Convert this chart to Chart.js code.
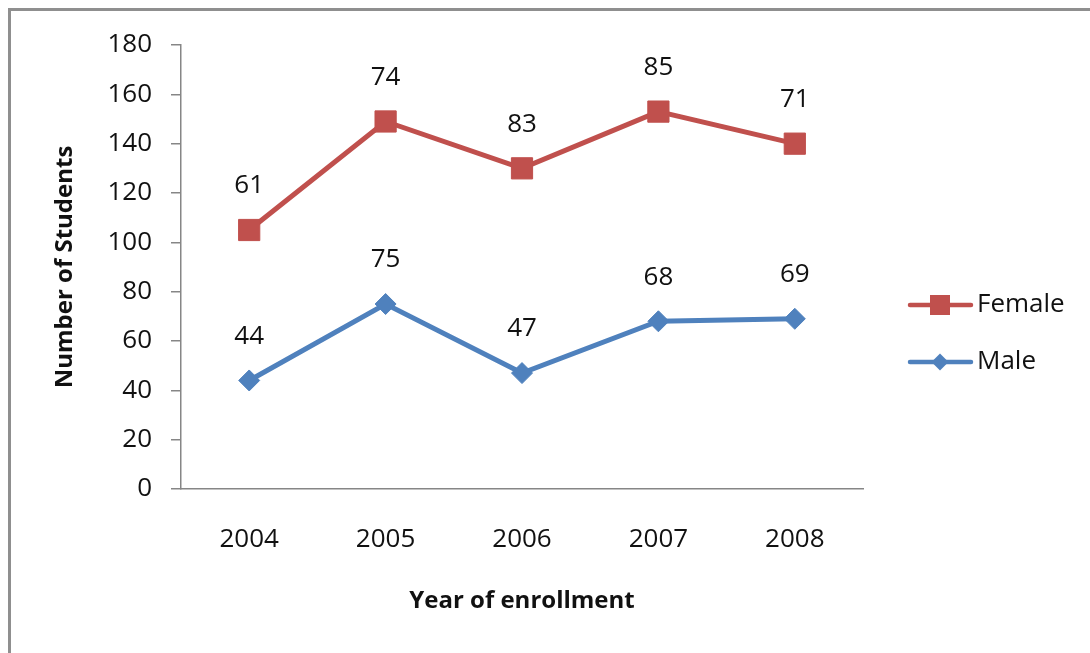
<!DOCTYPE html>
<html>
<head>
<meta charset="utf-8">
<script src="https://cdn.jsdelivr.net/npm/chart.js@4.4.1/dist/chart.umd.min.js"></script>
<style>
  html, body { margin: 0; padding: 0; background: #fff; overflow: hidden; }
  #frame { position: absolute; left: 8px; top: 8px; width: 1200px; height: 800px;
           border: 3px solid #8f8f8f; box-sizing: border-box; }
  #chart { position: absolute; left: 0; top: 0; }
</style>
</head>
<body>
<div id="frame"></div>
<canvas id="chart" width="1090" height="653"></canvas>
<script>
// enrollment by year, stacked: male at the bottom, female on top
const years = ['2004', '2005', '2006', '2007', '2008'];
const male = [44, 75, 47, 68, 69];
const female = [61, 74, 83, 85, 71];

const RED = '#C0504D';
const BLUE = '#4F81BD';
const AXIS = '#868686';
const FONT = "'Open Sans', sans-serif";

// value labels above each point (raw value, placed at stacked position)
const valueLabels = {
    id: 'valueLabels',
    afterDatasetsDraw(chart) {
        const ctx = chart.ctx;
        ctx.save();
        ctx.font = `26px ${FONT}`;
        ctx.fillStyle = '#111';
        ctx.textAlign = 'center';
        ctx.textBaseline = 'middle';
        chart.data.datasets.forEach((ds, i) => {
            chart.getDatasetMeta(i).data.forEach((pt, j) => {
                ctx.fillText(String(ds.data[j]), pt.x, pt.y - 44);
            });
        });
        ctx.restore();
    }
};

// line-and-marker legend on the right, Female listed first
const sideLegend = {
    id: 'sideLegend',
    afterDraw(chart) {
        const ctx = chart.ctx;
        const rows = [
            { ds: chart.data.datasets[1], y: 305 },
            { ds: chart.data.datasets[0], y: 362 }
        ];
        ctx.save();
        rows.forEach(r => {
            const c = r.ds.borderColor;
            ctx.strokeStyle = c;
            ctx.fillStyle = c;
            ctx.lineWidth = 4.5;
            ctx.lineCap = 'round';
            ctx.beginPath();
            ctx.moveTo(910, r.y);
            ctx.lineTo(971, r.y);
            ctx.stroke();
            if (r.ds.pointStyle === 'rect') {
                ctx.fillRect(930, r.y - 10, 20, 20);
            } else {
                ctx.beginPath();
                ctx.moveTo(940, r.y - 8.5);
                ctx.lineTo(948.5, r.y);
                ctx.lineTo(940, r.y + 8.5);
                ctx.lineTo(931.5, r.y);
                ctx.closePath();
                ctx.fill();
            }
            ctx.font = `26px ${FONT}`;
            ctx.fillStyle = '#111';
            ctx.textAlign = 'left';
            ctx.textBaseline = 'middle';
            ctx.fillText(r.ds.label, 977, r.y);
        });
        ctx.restore();
    }
};

new Chart(document.getElementById('chart'), {
    type: 'line',
    data: {
        labels: years,
        datasets: [
            {
                label: 'Male',
                data: male,
                borderColor: BLUE,
                backgroundColor: BLUE,
                borderWidth: 5,
                pointStyle: 'rectRot',
                pointRadius: 10.5,
                pointBorderWidth: 1,
                fill: false,
                tension: 0
            },
            {
                label: 'Female',
                data: female,
                borderColor: RED,
                backgroundColor: RED,
                borderWidth: 5,
                pointStyle: 'rect',
                pointRadius: 15,
                pointBorderWidth: 1,
                fill: false,
                tension: 0
            }
        ]
    },
    options: {
        responsive: false,
        animation: false,
        layout: { padding: { left: 0, top: 45, right: 227, bottom: 0 } },
        plugins: {
            legend: { display: false },
            tooltip: { enabled: false }
        },
        scales: {
            x: {
                offset: true,
                grid: { display: false, drawTicks: false, offset: true },
                border: { color: AXIS, width: 1.5 },
                ticks: { color: '#111', font: { family: FONT, size: 26 }, padding: 35 },
                title: {
                    display: true,
                    text: 'Year of enrollment',
                    color: '#111',
                    font: { family: FONT, size: 24, weight: 'bold' },
                    padding: { bottom: 37 }
                },
                afterFit: s => { s.height = 164; }
            },
            y: {
                stacked: true,
                min: 0,
                max: 180,
                ticks: { stepSize: 20, color: '#111', font: { family: FONT, size: 26 }, padding: 19 },
                grid: { drawOnChartArea: false, drawTicks: true, tickLength: 10, color: AXIS, lineWidth: 1.5 },
                border: { color: AXIS, width: 1.5 },
                title: {
                    display: true,
                    text: 'Number of Students',
                    color: '#111',
                    font: { family: FONT, size: 24, weight: 'bold' },
                    padding: { top: 51 }
                },
                afterFit: s => { s.width = 181; }
            }
        }
    },
    plugins: [valueLabels, sideLegend]
});
</script>
</body>
</html>
